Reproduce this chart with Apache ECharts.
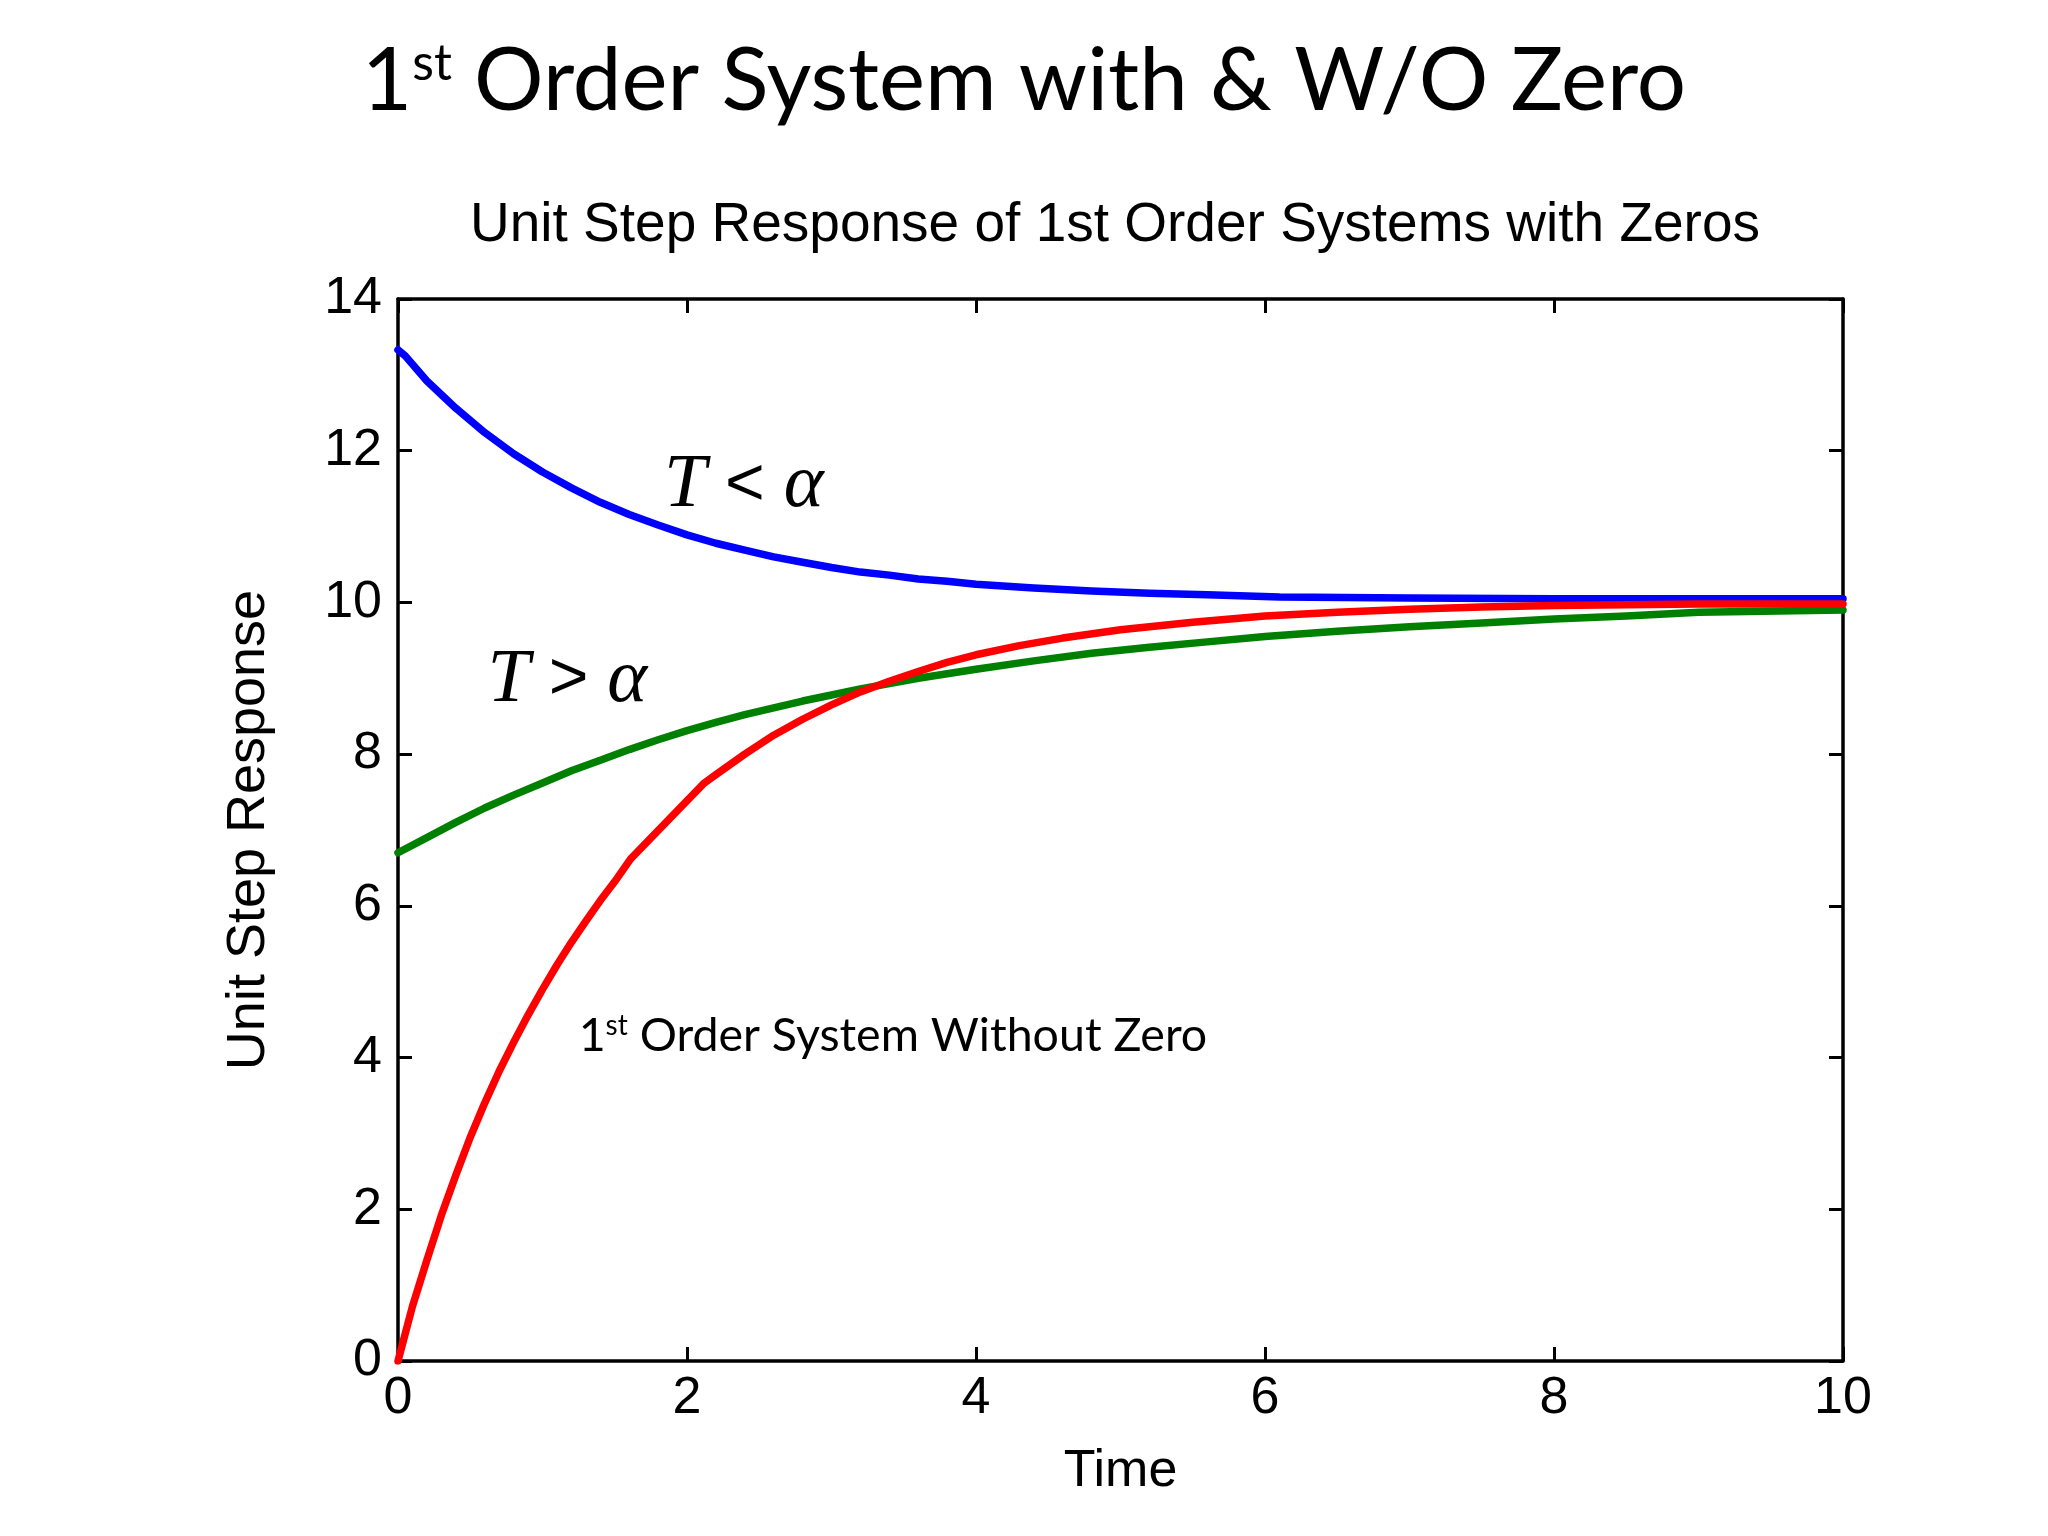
<!DOCTYPE html>
<html>
<head>
<meta charset="utf-8">
<title>1st Order System with & W/O Zero</title>
<script src="https://cdn.jsdelivr.net/npm/echarts@6/dist/echarts.min.js"></script>
<style type="text/css">
html, body { margin: 0; padding: 0; background: #fff; }
#chart { width: 2048px; height: 1536px; }
</style>
</head>
<body>
<div id="chart"></div>
<script>
// T < alpha (with zero, overshoots above 10)
var tBlue = [0, 0.05, 0.2, 0.4, 0.6, 0.8, 1.0, 1.2, 1.4, 1.6, 1.8, 2.0, 2.2, 2.4, 2.6, 2.8, 3.0, 3.2, 3.4, 3.6, 3.8, 4.0, 4.4, 4.8, 5.2, 5.6, 6.1, 7.0, 8.0, 9.0, 10.0];
var yBlue = [13.33, 13.25, 12.92, 12.56, 12.24, 11.96, 11.72, 11.51, 11.32, 11.16, 11.02, 10.89, 10.78, 10.69, 10.60, 10.53, 10.46, 10.40, 10.36, 10.31, 10.28, 10.24, 10.19, 10.15, 10.12, 10.10, 10.07, 10.06, 10.05, 10.05, 10.05];

// T > alpha
var tGreen = [0, 0.2, 0.4, 0.6, 0.8, 1.0, 1.2, 1.4, 1.6, 1.8, 2.0, 2.2, 2.4, 2.6, 2.8, 3.0, 3.2, 3.4, 3.6, 3.8, 4.0, 4.4, 4.8, 5.2, 5.6, 6.0, 6.5, 7.0, 7.5, 8.0, 8.5, 9.0, 10.0];
var yGreen = [6.70, 6.90, 7.10, 7.29, 7.46, 7.62, 7.78, 7.92, 8.06, 8.19, 8.31, 8.42, 8.52, 8.61, 8.70, 8.78, 8.86, 8.93, 9.00, 9.06, 9.12, 9.23, 9.33, 9.41, 9.48, 9.55, 9.62, 9.68, 9.73, 9.78, 9.82, 9.87, 9.90];

// 1st order system without zero
var tRed = [0, 0.1, 0.2, 0.3, 0.4, 0.5, 0.6, 0.7, 0.8, 0.9, 1.0, 1.1, 1.2, 1.3, 1.4, 1.5, 1.61, 2.12, 2.2, 2.4, 2.6, 2.8, 3.0, 3.2, 3.4, 3.6, 3.8, 4.0, 4.3, 4.6, 5.0, 5.5, 6.0, 6.5, 7.0, 7.5, 8.0, 9.0, 10.0];
var yRed = [0, 0.72, 1.33, 1.92, 2.45, 2.95, 3.40, 3.82, 4.20, 4.56, 4.90, 5.22, 5.52, 5.80, 6.07, 6.32, 6.62, 7.62, 7.73, 8.00, 8.25, 8.46, 8.65, 8.82, 8.96, 9.09, 9.21, 9.31, 9.43, 9.53, 9.64, 9.74, 9.82, 9.87, 9.91, 9.94, 9.96, 9.98, 9.98];

var xTicks = { min: 0, max: 10, interval: 2 };
var yTicks = { min: 0, max: 14, interval: 2 };

function pairs(t, y) {
  return t.map(function (v, i) { return [v, y[i]]; });
}

var labelFont = { color: '#000', fontFamily: 'Liberation Sans', fontSize: 52 };

var dom = document.getElementById('chart');
var chart = echarts.init(dom, null, { renderer: 'canvas' });

function frameAxis(pos, ticks, showLabel, isX) {
  return {
    type: 'value',
    position: pos,
    min: ticks.min, max: ticks.max, interval: ticks.interval,
    axisLine: { show: true, onZero: false, lineStyle: { color: '#000', width: 3.5 } },
    axisTick: { show: true, inside: true, length: 14, lineStyle: { color: '#000', width: 3 } },
    axisLabel: showLabel ? Object.assign({ margin: isX ? 12 : 16 }, labelFont) : { show: false },
    splitLine: { show: false }
  };
}

var xBottom = frameAxis('bottom', xTicks, true, true);
xBottom.name = 'Time';
xBottom.nameLocation = 'middle';
xBottom.nameGap = 85;
xBottom.nameTextStyle = labelFont;

var yLeft = frameAxis('left', yTicks, true, false);
yLeft.name = 'Unit Step Response';
yLeft.nameLocation = 'middle';
yLeft.nameGap = 122;
yLeft.nameTextStyle = { color: '#000', fontFamily: 'Liberation Sans', fontSize: 54 };

function curve(t, y, color, z) {
  return { type: 'line', data: pairs(t, y), showSymbol: false, smooth: false,
    lineStyle: { color: color, width: 7.5, join: 'round', cap: 'round' }, z: z };
}

var option = {
  animation: false,
  backgroundColor: '#fff',
  grid: { left: 398, top: 299, right: 205, bottom: 175, containLabel: false },
  xAxis: [xBottom, frameAxis('top', xTicks, false, true)],
  yAxis: [yLeft, frameAxis('right', yTicks, false, false)],
  series: [
    curve(tBlue, yBlue, '#0000ff', 2),
    curve(tGreen, yGreen, '#008000', 3),
    curve(tRed, yRed, '#ff0000', 4)
  ]
};
chart.setOption(option);

// text placed with data coordinates of the plot
function at(t, y) { return chart.convertToPixel({ gridIndex: 0 }, [t, y]); }

var pLess = at(1.84, 11.53);
var pMore = at(0.62, 8.97);
var pNote = at(1.25, 4.29);

var mathRich = {
  i: { fontFamily: 'Liberation Serif', fontStyle: 'italic', fontSize: 76, fill: '#000' },
  o: { fontFamily: 'Liberation Sans', fontSize: 68, fill: '#000' }
};

chart.setOption({
  graphic: [
    { type: 'text', x: 1024, y: 82, z: 10,
      style: { text: '{n|1}{s|st}{n| Order System with & W/O Zero}', align: 'center', verticalAlign: 'middle',
        rich: {
          n: { fontFamily: 'Lato', fontSize: 87, fill: '#000' },
          s: { fontFamily: 'Lato', fontSize: 50, fill: '#000', verticalAlign: 'top' }
        } } },
    { type: 'text', x: 1115, y: 226, z: 10,
      style: { text: 'Unit Step Response of 1st Order Systems with Zeros', align: 'center', verticalAlign: 'middle',
        fontFamily: 'Liberation Sans', fontSize: 55, fill: '#000' } },
    { type: 'text', x: pLess[0], y: pLess[1], z: 10,
      style: { text: '{i|T}{o| < }{i|α}', align: 'left', verticalAlign: 'middle', rich: mathRich } },
    { type: 'text', x: pMore[0], y: pMore[1], z: 10,
      style: { text: '{i|T}{o| > }{i|α}', align: 'left', verticalAlign: 'middle', rich: mathRich } },
    { type: 'text', x: pNote[0], y: pNote[1], z: 10,
      style: { text: '{n|1}{s|st}{n| Order System Without Zero}', align: 'left', verticalAlign: 'middle',
        rich: {
          n: { fontFamily: 'Lato', fontSize: 46.5, fill: '#000' },
          s: { fontFamily: 'Lato', fontSize: 28, fill: '#000', verticalAlign: 'top' }
        } } }
  ]
});

window.addEventListener('resize', function () {
  chart.resize();
});
</script>
</body>
</html>
